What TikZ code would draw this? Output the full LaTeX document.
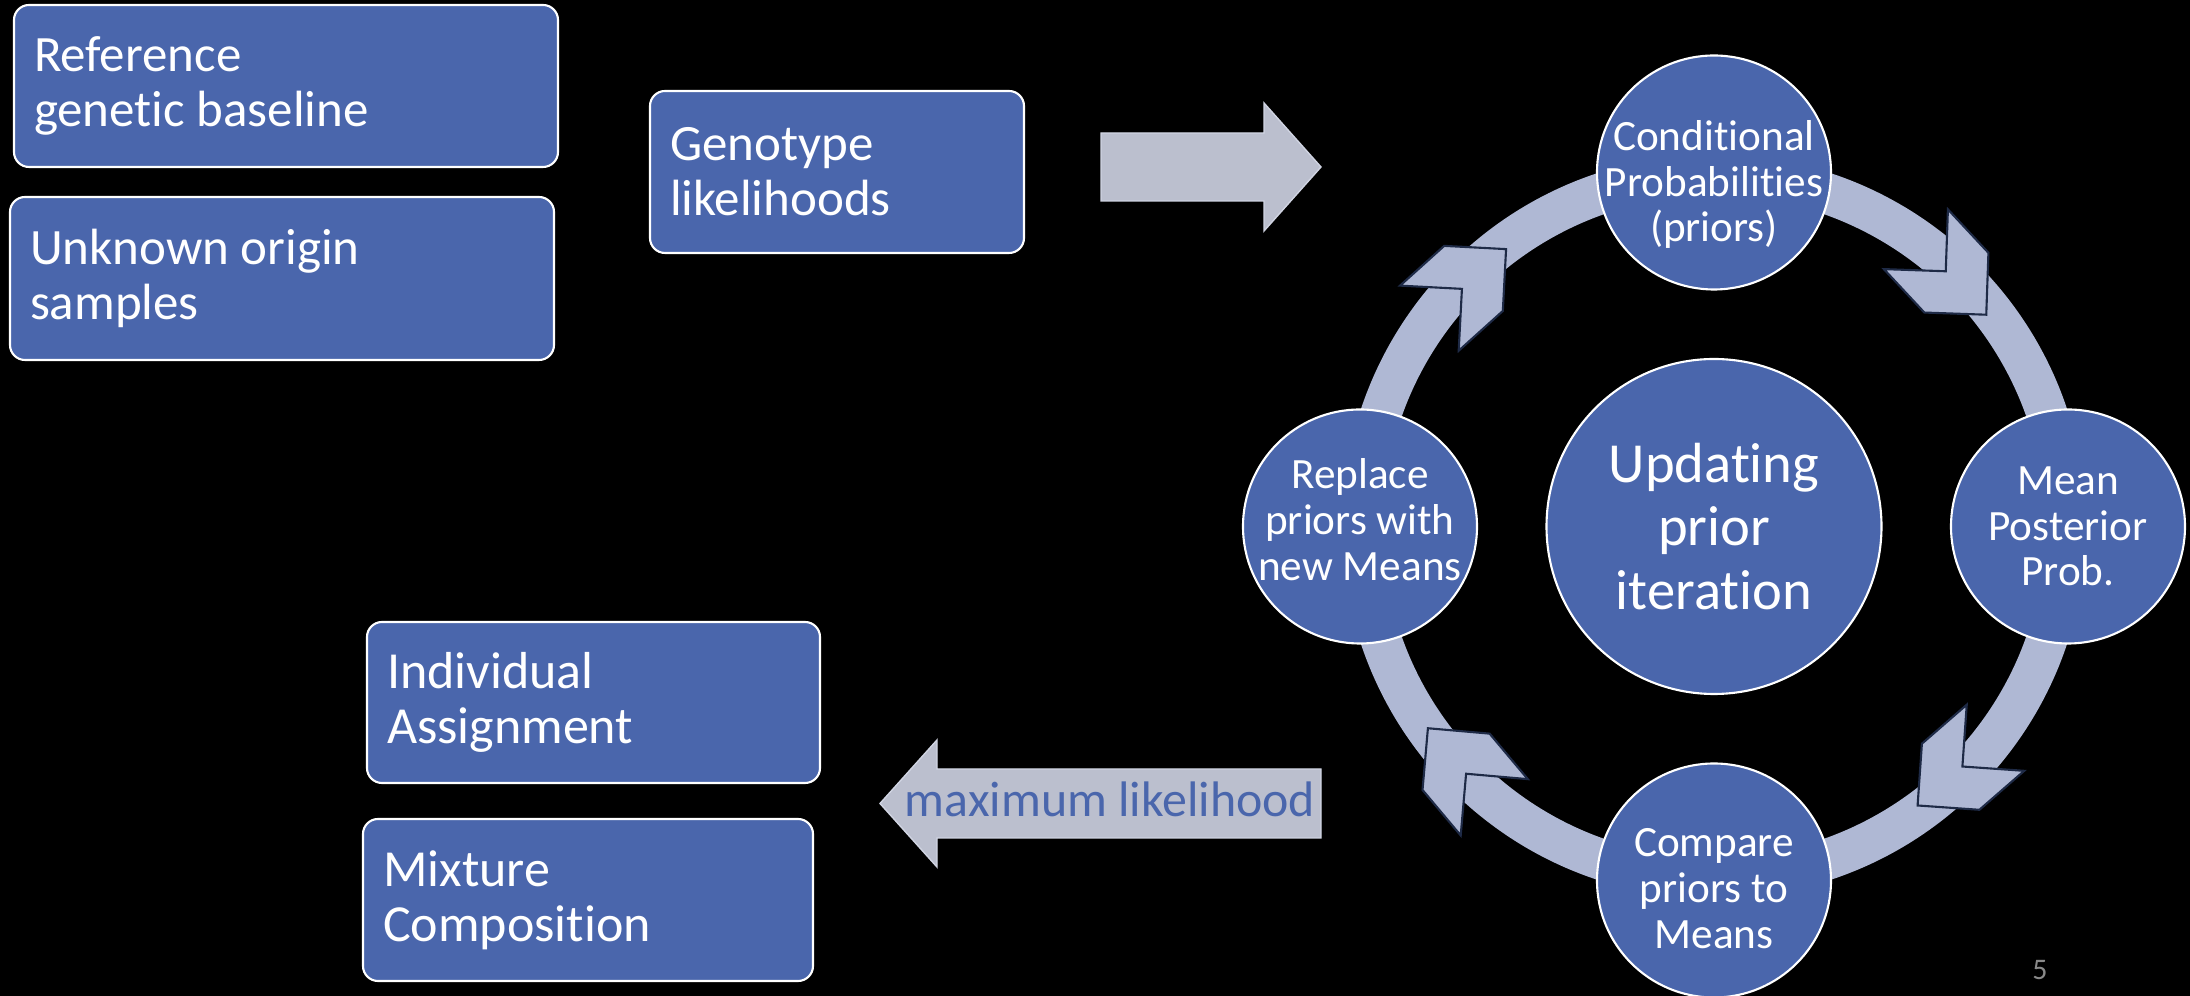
\documentclass[tikz,border=0pt]{standalone}
\usepackage{fontspec}
\setmainfont{Carlito}[Ligatures=NoCommon]
\usepackage{tikz}
\usetikzlibrary{calc}
\definecolor{boxblue}{RGB}{74,102,172}
\definecolor{ringblue}{RGB}{175,184,212}
\definecolor{arrowgray}{RGB}{187,191,206}
\definecolor{arrowedge}{RGB}{208,212,226}
\definecolor{chevedge}{RGB}{30,42,70}
\definecolor{pagegray}{RGB}{137,137,137}

\begin{document}
\begin{tikzpicture}[
  box/.style={draw=white, line width=0.6pt, fill=boxblue, rounded corners=0.15cm, text=white, align=flush left, inner xsep=0.2cm, font=\fontsize{14.5}{15.6}\selectfont},
  bubble/.style={circle, draw=white, line width=0.6pt, fill=boxblue, minimum size=2.34cm, inner sep=0pt},
  bubbletext/.style={text=white, align=center, font=\fontsize{12.3}{13}\selectfont},
  blockarrow/.style={fill=arrowgray, draw=arrowedge, line width=0.4pt},
  chev/.style={fill=ringblue, draw=chevedge, line width=0.6pt, line join=miter}
]
\useasboundingbox (0,0) rectangle (21.9,9.96);
\fill[black] (0,0) rectangle (21.9,9.96);
% inputs
\node[box, text width=5.04cm, minimum height=1.62cm] (ref) at (2.86,9.10) {Reference\\genetic baseline};
\node[box, text width=5.04cm, minimum height=1.63cm] (unk) at (2.82,7.175) {Unknown origin\\samples};
\node[box, text width=3.34cm, minimum height=1.62cm] (geno) at (8.37,8.24) {Genotype\\likelihoods};
\filldraw[blockarrow] (11.01,7.95) -- (11.01,8.63) -- (12.64,8.63) -- (12.64,8.93) -- (13.21,8.29) -- (12.64,7.65) -- (12.64,7.95) -- cycle;
% iteration cycle
\coordinate (cyc) at (17.14,4.695);
\draw[ringblue, line width=0.41cm] (cyc) circle (3.515);
\filldraw[chev, shift={(19.66,7.03)}, rotate=-47] (0.297,0) -- (-0.141,0.438) -- (-0.735,0.438) -- (-0.297,0) -- (-0.735,-0.438) -- (-0.141,-0.438) -- cycle;
\filldraw[chev, shift={(19.40,2.10)}, rotate=-139] (0.297,0) -- (-0.141,0.438) -- (-0.735,0.438) -- (-0.297,0) -- (-0.735,-0.438) -- (-0.141,-0.438) -- cycle;
\filldraw[chev, shift={(14.47,2.45)}, rotate=130] (0.297,0) -- (-0.141,0.438) -- (-0.735,0.438) -- (-0.297,0) -- (-0.735,-0.438) -- (-0.141,-0.438) -- cycle;
\filldraw[chev, shift={(14.84,7.27)}, rotate=42] (0.297,0) -- (-0.141,0.438) -- (-0.735,0.438) -- (-0.297,0) -- (-0.735,-0.438) -- (-0.141,-0.438) -- cycle;
\node[bubble, label={[bubbletext, yshift=-0.12cm]center:{Conditional\\Probabilities\\(priors)}}] (cond) at ($(cyc)+(90:3.54)$) {};
\node[bubble, label={[bubbletext]center:{Mean\\Posterior\\Prob.}}] (mean) at ($(cyc)+(0:3.54)$) {};
\node[bubble, label={[bubbletext, yshift=-0.08cm]center:{Compare\\priors to\\Means}}] (comp) at ($(cyc)+(-90:3.54)$) {};
\node[bubble, label={[bubbletext, yshift=0.07cm]center:{Replace\\priors with\\new Means}}] (repl) at ($(cyc)+(180:3.54)$) {};
\node[bubble, minimum size=3.35cm, label={[bubbletext, font=\fontsize{16.1}{18.1}\selectfont]center:{Updating\\prior\\iteration}}] (upd) at (cyc) {};
% outputs
\filldraw[blockarrow] (13.21,1.58) -- (13.21,2.27) -- (9.37,2.27) -- (9.37,2.56) -- (8.80,1.925) -- (9.37,1.29) -- (9.37,1.58) -- cycle;
\node[anchor=base, text=boxblue, font=\fontsize{14.2}{15}\selectfont] (ml) at (11.10,1.79) {maximum likelihood};
\node[box, text width=4.13cm, minimum height=1.61cm, font=\fontsize{14.8}{15.6}\selectfont] (indiv) at (5.935,2.935) {Individual\\Assignment};
\node[box, text width=4.10cm, minimum height=1.62cm, font=\fontsize{14.8}{15.6}\selectfont] (mix) at (5.88,0.96) {Mixture\\Composition};
\node[text=pagegray, font=\fontsize{8.5}{9}\selectfont] (page) at (20.40,0.26) {5};
\end{tikzpicture}
\end{document}
